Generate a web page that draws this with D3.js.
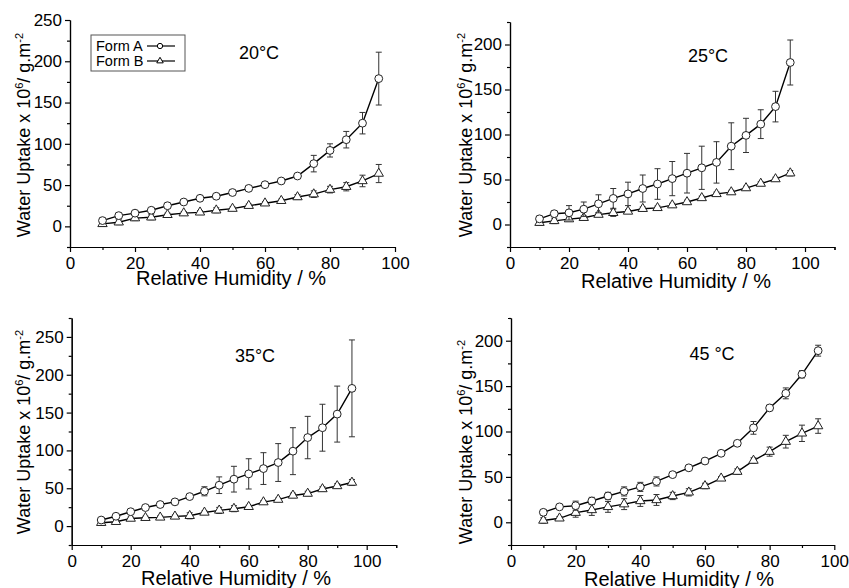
<!DOCTYPE html>
<html>
<head>
<meta charset="utf-8">
<script src="https://cdn.jsdelivr.net/npm/d3@7"></script>
<style>
  body { margin: 0; background: #fff; }
  svg { font-family: "Liberation Sans", Arial, sans-serif; }
</style>
</head>
<body>
<div class="js-chart"></div>
<script>
// relative humidity steps (%)
let rh = [10, 15, 20, 25, 30, 35, 40, 45, 50, 55, 60, 65, 70, 75, 80, 85, 90, 95];
let temps = ["20°C", "25°C", "35°C", "45 °C"];
let xTicks = [0, 20, 40, 60, 80, 100];

// 20°C
let formA20 = [7, 13, 16, 19.5, 25, 29.5, 34, 36.5, 41, 46, 50.5, 55, 61, 76, 92, 105, 125, 179];
let errA20 = [3, 3, 3, 3, 3, 3, 3, 3, 3, 3, 2, 2, 2, 10, 8, 10, 13, 32];
let formB20 = [3, 5, 10, 11, 14, 16, 17, 19.5, 21.5, 25, 28, 31, 35.5, 39, 44.5, 48, 55, 64];
let errB20 = [3, 3, 3, 3, 2, 2, 2, 3, 2, 2, 2, 2, 3, 4, 4, 5, 7, 11];

// 25°C
let formA25 = [6.3, 12, 13, 17, 23, 29, 34, 40, 45, 51, 57, 63, 69, 87, 99, 111.5, 131, 180];
let errA25 = [3, 3, 8, 8, 10, 11, 13, 15, 17, 19, 22, 24, 23, 26, 19, 16, 17, 25];
let formB25 = [2, 4, 6, 7.5, 11, 13, 14.5, 17.5, 18.5, 21.5, 25, 29.5, 34, 36, 40.5, 45.5, 50.5, 57];
let errB25 = [3, 3, 2, 2, 2, 4, 2, 2, 2, 2, 2, 2, 2, 2, 2, 2, 2, 3];

// 35°C
let formA35 = [8, 13, 19, 24.5, 28.5, 32, 39, 46, 54, 62, 69, 76, 84, 99, 117, 130, 148, 182];
let errA35 = [3, 2, 2, 2, 3, 3, 2, 6, 11, 17, 20, 21, 25, 31, 28, 31, 37, 64];
let formB35 = [4.4, 5.7, 10, 11, 11.5, 12.8, 13.6, 18, 20.7, 23, 25.5, 31.7, 35, 40.5, 43, 49, 53, 57.6];
let errB35 = [3, 3, 2, 2, 2, 2, 4, 2, 4, 4, 2, 2, 2, 3, 3, 3, 3, 4];

// 45°C
let formA45 = [11, 17, 18.3, 23.5, 29, 34, 39, 45, 52.5, 60, 67.5, 76, 87, 104, 126, 142, 163, 189];
let errA45 = [3, 2, 5, 4, 4, 5, 5, 5, 2, 2, 2, 2, 2, 7, 3, 6, 4, 6];
let formB45 = [2, 4.4, 10.6, 13.6, 17, 20, 23.5, 24.6, 29, 33, 40, 48.4, 55.8, 68, 77.8, 88.8, 98, 106];
let errB45 = [3, 2, 5, 6, 6, 6, 6, 6, 4, 4, 3, 2, 3, 3, 5, 7, 9, 8];

let width = 849, height = 588;

// panel layout: plot boxes and label spots
let panels = [
    {a: formA20, ea: errA20, b: formB20, eb: errB20, xmax: 100, ymax: 250, yTicks: [0, 50, 100, 150, 200, 250],
     left: 70, right: 395, top: 20, bottom: 247, title: [259, 59], ylab: [30, 135], xlab: [231, 285]},
    {a: formA25, ea: errA25, b: formB25, eb: errB25, xmax: 110, ymax: 225, yTicks: [0, 50, 100, 150, 200],
     left: 510, right: 834.5, top: 22, bottom: 247, title: [708, 62], ylab: [472, 135], xlab: [676, 288]},
    {a: formA35, ea: errA35, b: formB35, eb: errB35, xmax: 110, ymax: 275, yTicks: [0, 50, 100, 150, 200, 250],
     left: 71.7, right: 396.2, top: 318, bottom: 545, title: [255, 362], ylab: [30, 432], xlab: [236, 585]},
    {a: formA45, ea: errA45, b: formB45, eb: errB45, xmax: 100, ymax: 225, yTicks: [0, 50, 100, 150, 200],
     left: 511, right: 834.3, top: 318, bottom: 545, title: [712, 360], ylab: [472, 442], xlab: [679, 586]}
];

let svg = d3.select(".js-chart").append("svg")
    .attr("width", width)
    .attr("height", height);

let circleSym = d3.symbol().type(d3.symbolCircle).size(48);
let triSym = d3.symbol().type(d3.symbolTriangle).size(38);

panels.forEach(function(p, i) {
    let x = d3.scaleLinear().domain([0, p.xmax]).range([p.left, p.right]);
    let y = d3.scaleLinear().domain([-25, p.ymax]).range([p.bottom, p.top]);
    let g = svg.append("g");

    let xMinor = d3.range(10, p.xmax + 1, 20);
    if (p.xmax > 100) xMinor.push(p.xmax);
    let yMinor = d3.range(-25, p.ymax + 1, 50);

    // minor ticks
    g.append("g").attr("transform", "translate(0," + p.bottom + ")")
        .call(d3.axisBottom(x).tickValues(xMinor).tickFormat("").tickSize(3).tickSizeOuter(0));
    g.append("g").attr("transform", "translate(" + p.left + ",0)")
        .call(d3.axisLeft(y).tickValues(yMinor).tickFormat("").tickSize(3).tickSizeOuter(0));

    // major ticks
    let xAxis = g.append("g").attr("transform", "translate(0," + p.bottom + ")")
        .call(d3.axisBottom(x).tickValues(xTicks).tickSize(5).tickPadding(5).tickSizeOuter(0));
    let yAxis = g.append("g").attr("transform", "translate(" + p.left + ",0)")
        .call(d3.axisLeft(y).tickValues(p.yTicks).tickSize(5).tickPadding(3).tickSizeOuter(0));

    g.selectAll(".domain, .tick line").attr("stroke", "#000").attr("stroke-width", 1.2);
    g.selectAll(".tick text").attr("fill", "#000").style("font-size", "17px")
        .style("font-family", "'Liberation Sans', Arial, sans-serif");

    let line = d3.line().x((d, j) => x(rh[j])).y(d => y(d));

    [[p.b, p.eb, triSym], [p.a, p.ea, circleSym]].forEach(function(s) {
        let vals = s[0], errs = s[1];
        g.append("path")
            .attr("d", line(vals))
            .attr("fill", "none")
            .attr("stroke", "#000")
            .attr("stroke-width", 1.4);

        let eb = g.append("g").attr("stroke", "#333").attr("stroke-width", 1);
        vals.forEach(function(v, j) {
            let cx = x(rh[j]);
            eb.append("line").attr("x1", cx).attr("x2", cx)
                .attr("y1", y(v - errs[j])).attr("y2", y(v + errs[j]));
            eb.append("line").attr("x1", cx - 3).attr("x2", cx + 3)
                .attr("y1", y(v - errs[j])).attr("y2", y(v - errs[j]));
            eb.append("line").attr("x1", cx - 3).attr("x2", cx + 3)
                .attr("y1", y(v + errs[j])).attr("y2", y(v + errs[j]));
        });

        g.selectAll(null)
            .data(vals)
            .join("path")
            .attr("transform", (d, j) => "translate(" + x(rh[j]) + "," + y(d) + ")")
            .attr("d", s[2])
            .attr("fill", "#fff")
            .attr("stroke", "#222")
            .attr("stroke-width", 1);
    });

    // temperature label
    g.append("text")
        .attr("x", p.title[0]).attr("y", p.title[1])
        .attr("text-anchor", "middle")
        .style("font-size", "18px")
        .text(temps[i]);

    // axis titles
    g.append("text")
        .attr("x", p.xlab[0]).attr("y", p.xlab[1])
        .attr("text-anchor", "middle")
        .style("font-size", "20px")
        .text("Relative Humidity / %");

    let yl = g.append("text")
        .attr("transform", "translate(" + p.ylab[0] + "," + p.ylab[1] + ") rotate(-90)")
        .attr("text-anchor", "middle")
        .style("font-size", "18px");
    yl.append("tspan").text("Water Uptake x 10");
    yl.append("tspan").attr("dy", -7).style("font-size", "11px").text("6");
    yl.append("tspan").attr("dy", 7).text("/ g.m");
    yl.append("tspan").attr("dy", -7).style("font-size", "11px").text("-2");
});

// legend in first panel
let legend = svg.append("g");
legend.append("rect")
    .attr("x", 91).attr("y", 35).attr("width", 94).attr("height", 36)
    .attr("fill", "#fff").attr("stroke", "#555").attr("stroke-width", 1);
let legendNames = ["Form A", "Form B"];
let legendSyms = [d3.symbol().type(d3.symbolCircle).size(22), d3.symbol().type(d3.symbolTriangle).size(18)];
legendNames.forEach(function(name, k) {
    let by = 51 + k * 15;
    legend.append("text").attr("x", 96).attr("y", by).style("font-size", "14.5px").text(name);
    legend.append("line").attr("x1", 147).attr("x2", 175)
        .attr("y1", by - 5).attr("y2", by - 5)
        .attr("stroke", "#000").attr("stroke-width", 1.2);
    legend.append("path").attr("transform", "translate(160," + (by - 5) + ")")
        .attr("d", legendSyms[k]).attr("fill", "#fff").attr("stroke", "#000").attr("stroke-width", 1);
});
</script>
</body>
</html>
